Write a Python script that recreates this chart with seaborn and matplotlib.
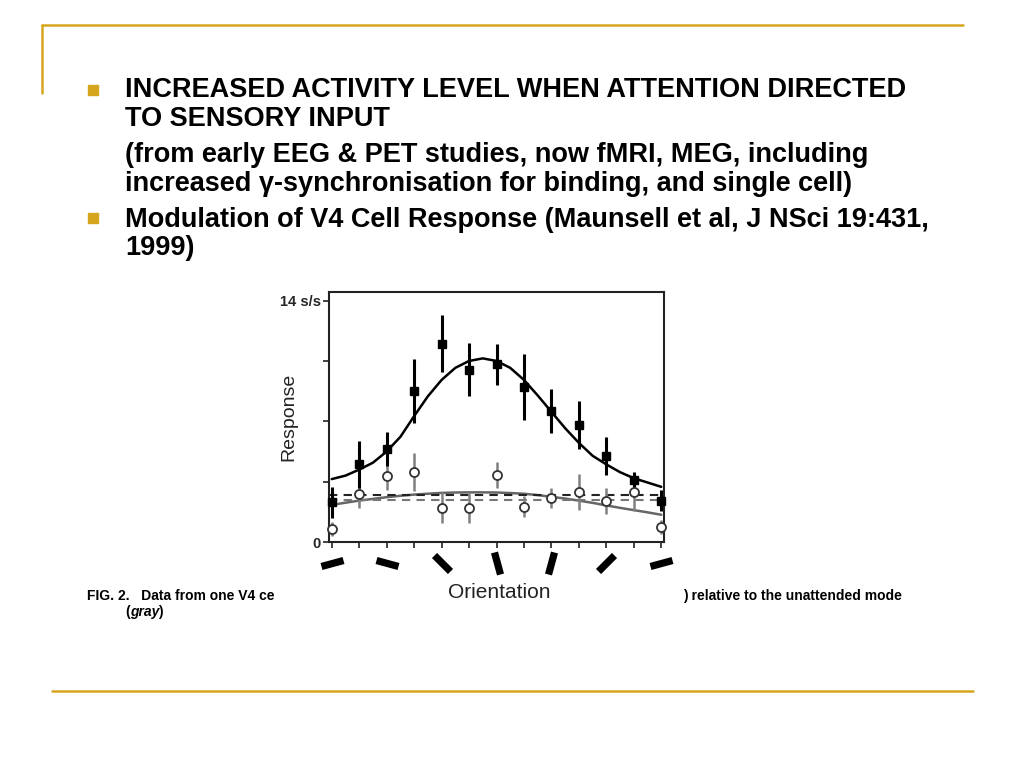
import numpy as np
import pandas as pd
import matplotlib
matplotlib.use("Agg")
import matplotlib.pyplot as plt
from matplotlib.lines import Line2D
from matplotlib.patches import Rectangle
from matplotlib.markers import MarkerStyle
from matplotlib.transforms import Affine2D, blended_transform_factory
import seaborn as sns

# --- datos (Maunsell, V4) ---
orientation = [0, 15, 30, 45, 60, 75, 90, 105, 120, 135, 150, 165, 180]
attended = [2.3, 4.5, 5.4, 8.75, 11.5, 10.0, 10.3, 9.0, 7.6, 6.8, 5.0, 3.6, 2.4]
attended_err = [0.9, 1.35, 1.0, 1.85, 1.65, 1.55, 1.2, 1.9, 1.3, 1.4, 1.1, 0.45, 0.6]
unattended = [0.75, 2.8, 3.85, 4.05, 2.0, 2.0, 3.9, 2.05, 2.55, 2.9, 2.4, 2.9, 0.85]
unattended_err = [0.4, 0.8, 0.85, 1.1, 0.9, 0.9, 0.75, 0.6, 0.6, 1.05, 0.75, 1.1, 0.4]

# curvas ajustadas, leídas cada 7.5 grados
fit_x = [0, 7.5, 15, 22.5, 30, 37.5, 45, 52.5, 60, 67.5, 75, 82.5, 90,
         97.5, 105, 112.5, 120, 127.5, 135, 142.5, 150, 157.5, 165, 172.5, 180]
fit_attended = [3.65, 3.85, 4.2, 4.6, 5.25, 6.1, 7.3, 8.45, 9.4, 10.1, 10.5, 10.65, 10.5,
                10.1, 9.4, 8.5, 7.55, 6.6, 5.75, 5.0, 4.5, 4.05, 3.7, 3.45, 3.2]
fit_unattended = [2.15, 2.28, 2.4, 2.5, 2.6, 2.68, 2.75, 2.8, 2.85, 2.87, 2.88, 2.88, 2.87,
                  2.84, 2.8, 2.72, 2.62, 2.52, 2.4, 2.27, 2.12, 1.98, 1.85, 1.72, 1.58]
baseline_attended = 2.73
baseline_unattended = 2.44

# barras de orientación bajo el eje (cada 30 grados)
bar_orient = [0, 30, 60, 90, 120, 150, 180]
bar_angle = [15, -15, -45, -75, -105, -135, -165]

ytick_vals = [0, 3.5, 7, 10.5, 14]
ytick_labels = ["0", "", "", "", "14 s/s"]

bullet1 = ["INCREASED ACTIVITY LEVEL WHEN ATTENTION DIRECTED",
           "TO SENSORY INPUT"]
bullet1b = ["(from early EEG & PET studies, now fMRI, MEG, including",
            "increased \u03b3-synchronisation for binding, and single cell)"]
bullet2 = ["Modulation of V4 Cell Response (Maunsell et al, J NSci 19:431,",
           "1999)"]

df_pts = pd.DataFrame({"orientation": orientation, "att": attended, "att_err": attended_err,
                       "unatt": unattended, "unatt_err": unattended_err})
df_fit = pd.DataFrame({"x": fit_x, "att": fit_attended, "unatt": fit_unattended})

sns.set_theme(style="white")
plt.rcParams["font.family"] = ["Liberation Sans", "DejaVu Sans"]

W, H = 1024, 768
fig = plt.figure(figsize=(10.24, 7.68), dpi=100)
fig.patch.set_facecolor("white")

gold = "#D6A51E"

def fx(px):
    return px / W

def fy(py):
    return 1 - py / H

# marco de la diapositiva
fig.add_artist(Line2D([fx(42), fx(963)], [fy(25), fy(25)], color=gold, lw=1.8))
fig.add_artist(Line2D([fx(42), fx(42)], [fy(25), fy(93)], color=gold, lw=1.8))
fig.add_artist(Line2D([fx(52), fx(973)], [fy(691), fy(691)], color=gold, lw=1.8))

for cy in [90, 218]:
    fig.add_artist(Rectangle((fx(88), fy(cy + 5)), 10 / W, 10 / H,
                             color=gold, transform=fig.transFigure))

txt_kw = dict(fontsize=19.5, fontweight="bold", color="black", va="baseline", ha="left")
for line, base in zip(bullet1 + bullet1b + bullet2, [97, 126, 162, 191, 227, 255]):
    fig.text(fx(125), fy(base), line, **txt_kw)

cap_kw = dict(fontsize=10, fontweight="bold", color="black", va="baseline")
fig.text(fx(87), fy(600), "FIG. 2.   Data from one V4 ce", ha="left", **cap_kw)
fig.text(fx(683), fy(600), ") relative to the unattended mode", ha="left", **cap_kw)
fig.text(fx(125), fy(616), "(", ha="left", **cap_kw)
fig.text(fx(130), fy(616), "gray", ha="left", style="italic", **cap_kw)
fig.text(fx(158), fy(616), ")", ha="left", **cap_kw)

# --- gráfico ---
ax = fig.add_axes([329 / W, 1 - 542 / H, 335 / W, 250 / H])
ax.set_facecolor("white")

sns.lineplot(data=df_fit, x="x", y="unatt", ax=ax, color="#666666", lw=1.8)
sns.lineplot(data=df_fit, x="x", y="att", ax=ax, color="black", lw=1.8)
ax.axhline(baseline_attended, color="#222222", lw=1.5, ls=(0, (4, 3)))
ax.axhline(baseline_unattended, color="#777777", lw=1.5, ls=(0, (4, 3)))

ax.errorbar(df_pts["orientation"], df_pts["unatt"], yerr=df_pts["unatt_err"],
            fmt="none", ecolor="#808080", elinewidth=1.8, clip_on=False)
ax.errorbar(df_pts["orientation"], df_pts["att"], yerr=df_pts["att_err"],
            fmt="none", ecolor="black", elinewidth=2.2, clip_on=False)
ax.plot(df_pts["orientation"], df_pts["unatt"], ls="none", marker="o", ms=6.5,
        mfc="white", mec="#333333", mew=1.3, clip_on=False, zorder=5)
ax.plot(df_pts["orientation"], df_pts["att"], ls="none", marker="s", ms=6,
        mfc="black", mec="black", clip_on=False, zorder=6)

ax.set_xlim(-1.5, 181.5)
ax.set_ylim(0, 14.5)
ax.set_xticks(orientation)
ax.set_xticklabels([])
ax.set_yticks(ytick_vals)
ax.set_yticklabels(ytick_labels, fontsize=10.5, fontweight="bold")
ax.tick_params(axis="both", direction="out", length=4, width=1.2, color="#222222",
               left=True, bottom=True, pad=2)
for s in ax.spines.values():
    s.set_visible(True)
    s.set_color("#222222")
    s.set_linewidth(1.5)

ax.set_ylabel("Response", fontsize=14, color="#222222")
ax.yaxis.set_label_coords(-0.095, 0.5)
ax.set_xlabel("Orientation", fontsize=15, color="#222222")
ax.xaxis.set_label_coords(0.507, -0.2)
ax.xaxis.label.set_va("center")

# barras de orientación
trans = blended_transform_factory(ax.transData, ax.transAxes)
for xo, ang in zip(bar_orient, bar_angle):
    m = MarkerStyle("_", transform=Affine2D().rotate_deg(ang))
    ax.plot([xo], [-0.085], ls="none", marker=m, ms=17, mew=5.2, mec="black",
            transform=trans, clip_on=False)

fig.savefig("out.png", dpi=100, facecolor="white")
